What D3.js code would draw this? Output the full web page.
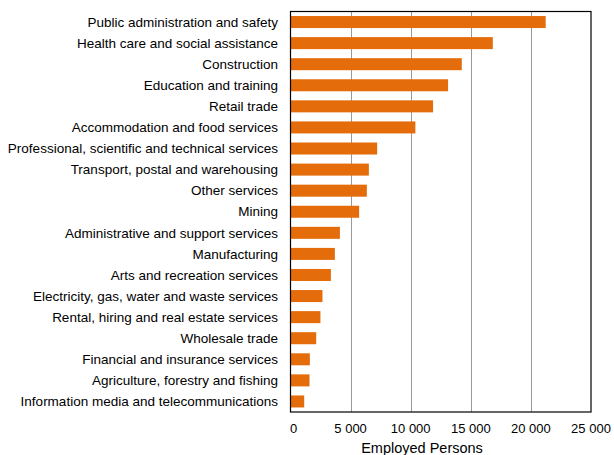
<!DOCTYPE html>
<html>
<head>
<meta charset="utf-8">
<script src="https://cdn.jsdelivr.net/npm/d3@7"></script>
<style>
  body { margin: 0; background: #fff; }
  text { font-family: "Liberation Sans", Arial, sans-serif; fill: #000; }
</style>
</head>
<body>
<div id="chart"></div>
<script>
// industries, top to bottom
const industries = [
  "Public administration and safety",
  "Health care and social assistance",
  "Construction",
  "Education and training",
  "Retail trade",
  "Accommodation and food services",
  "Professional, scientific and technical services",
  "Transport, postal and warehousing",
  "Other services",
  "Mining",
  "Administrative and support services",
  "Manufacturing",
  "Arts and recreation services",
  "Electricity, gas, water and waste services",
  "Rental, hiring and real estate services",
  "Wholesale trade",
  "Financial and insurance services",
  "Agriculture, forestry and fishing",
  "Information media and telecommunications"
];
const employed = [21230, 16830, 14250, 13110, 11860, 10390, 7210, 6520, 6350, 5710,
                  4110, 3690, 3360, 2660, 2490, 2140, 1610, 1580, 1140];
const xTicks = [0, 5000, 10000, 15000, 20000, 25000];

const width = 614, height = 455;
const plotLeft = 290.5, plotRight = 591, plotTop = 11.5, plotBottom = 412;

const svg = d3.select("#chart").append("svg")
  .attr("width", width).attr("height", height);

const x = d3.scaleLinear().domain([0, 25000]).range([plotLeft, plotRight]);
const y = d3.scaleBand().domain(industries).range([plotTop, plotBottom])
  .paddingInner(0.43).paddingOuter(0.215);

// gridlines
svg.append("g")
  .selectAll("line")
  .data(xTicks.slice(1, -1))
  .join("line")
  .attr("x1", d => Math.round(x(d)) + 0.5)
  .attr("x2", d => Math.round(x(d)) + 0.5)
  .attr("y1", plotTop).attr("y2", plotBottom)
  .attr("stroke", "#999").attr("stroke-width", 1);

// bars
svg.append("g")
  .selectAll("rect")
  .data(industries)
  .join("rect")
  .attr("x", x(0))
  .attr("y", d => y(d))
  .attr("width", (d, i) => x(employed[i]) - x(0))
  .attr("height", y.bandwidth())
  .attr("fill", "#E46C0A");

// frame
svg.append("rect")
  .attr("x", plotLeft).attr("y", plotTop)
  .attr("width", plotRight - plotLeft).attr("height", plotBottom - plotTop)
  .attr("fill", "none").attr("stroke", "#000").attr("stroke-width", 1.2);

// category labels
svg.append("g")
  .selectAll("text")
  .data(industries)
  .join("text")
  .attr("x", 278)
  .attr("y", d => y(d) + y.bandwidth() / 2)
  .attr("dy", "0.35em")
  .attr("text-anchor", "end")
  .attr("font-size", 13.5)
  .text(d => d);

// x tick labels
const fmt = d => d3.format(",")(d).replace(/,/g, " ");
svg.append("g")
  .selectAll("text")
  .data(xTicks)
  .join("text")
  .attr("x", d => x(d) + (d === 0 ? 3 : 0))
  .attr("y", 428)
  .attr("dy", "0.35em")
  .attr("text-anchor", "middle")
  .attr("font-size", 13)
  .text(fmt);

svg.append("text")
  .attr("x", 422)
  .attr("y", 448)
  .attr("dy", "0.35em")
  .attr("text-anchor", "middle")
  .attr("font-size", 14.5)
  .text("Employed Persons");
</script>
</body>
</html>
